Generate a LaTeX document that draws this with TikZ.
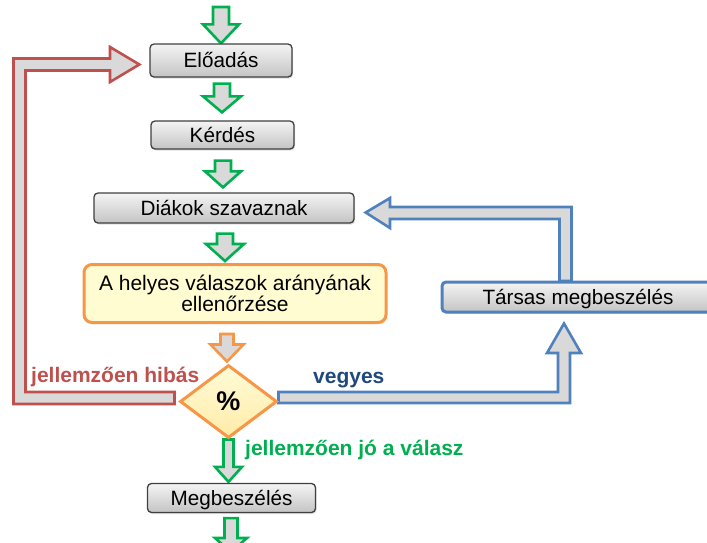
\documentclass[tikz,border=0pt]{standalone}
\usepackage{fontspec}
\setmainfont{Liberation Sans}
\usetikzlibrary{shapes.geometric,calc,shadows}
\pgfdeclarelayer{background}
\pgfsetlayers{background,main}
\definecolor{cred}{HTML}{C0504D}
\definecolor{cblue}{HTML}{4F81BD}
\definecolor{cgreen}{HTML}{00B050}
\definecolor{corange}{HTML}{F79646}
\definecolor{cdblue}{HTML}{1F497D}
\definecolor{afill}{HTML}{D9D9D9}
\definecolor{boxtop}{HTML}{F4F4F4}
\definecolor{boxbot}{HTML}{C4C4C4}
\definecolor{boxline}{HTML}{404040}
\definecolor{yfill}{HTML}{FFFCD2}
\definecolor{dtop}{HTML}{FFFCD8}
\definecolor{dbot}{HTML}{FFEBA8}
\tikzset{
  txt/.style={font=\fontsize{20.7}{22}\selectfont},
  graybox/.style={txt, rectangle, rounded corners=4pt, draw=boxline, line width=1.3pt,
    top color=boxtop, bottom color=boxbot, inner sep=0pt,
    text height=14.8pt, text depth=0pt,
    drop shadow={opacity=0.25, shadow xshift=1.2pt, shadow yshift=-1.5pt}},
  bluebox/.style={graybox, draw=cblue, line width=3pt},
  yellowbox/.style={font=\fontsize{21}{22}\selectfont, rectangle, rounded corners=8pt, draw=corange, line width=3pt,
    fill=yfill, inner sep=0pt, align=center,
    drop shadow={opacity=0.25, shadow xshift=1.2pt, shadow yshift=-1.5pt}},
  decision/.style={diamond, draw=corange, line width=3pt, top color=dtop, bottom color=dbot,
    inner sep=0pt, minimum width=97pt, minimum height=73pt,
    font=\fontsize{27}{30}\selectfont\bfseries},
  blockarrow/.style={draw=#1, line width=2.6pt, fill=afill, line join=miter, miter limit=10},
  lbl/.style={font=\fontsize{21}{22}\selectfont\bfseries, inner sep=0pt, anchor=base west}
}
% block arrow pointing down: #1 start, #2 tip, #3 colour, #4 shaft half, #5 head half, #6 head length
\newcommand\blockdown[6]{%
  \draw[blockarrow=#3] let \p1=#1, \p2=#2 in
    ({\x2-#4pt},\y1) -- ({\x2+#4pt},\y1) -- ({\x2+#4pt},{\y2+#6pt}) -- ({\x2+#5pt},{\y2+#6pt})
    -- (\x2,\y2) -- ({\x2-#5pt},{\y2+#6pt}) -- ({\x2-#4pt},{\y2+#6pt}) -- cycle;}
\begin{document}
\begin{tikzpicture}[x=1pt,y=-1pt]
\useasboundingbox (0,0) rectangle (707,542);

% nodes
\node[graybox, minimum width=142pt, minimum height=33pt] (eloadas) at (221,60.5) {Előadás};
\node[graybox, minimum width=143pt, minimum height=28pt] (kerdes) at (222.5,135) {Kérdés};
\node[graybox, minimum width=260pt, minimum height=30pt] (diakok) at (224,208) {Diákok szavaznak};
\node[yellowbox, minimum width=302pt, minimum height=58pt] (arany) at (235,293.5)
  {A helyes válaszok arányának\\[-1pt] ellenőrzése};
\node[decision] (dia) at (228.5,401.5) {\%};
\node[graybox, minimum width=168pt, minimum height=29pt] (megb) at (231.5,498) {Megbeszélés};
\node[bluebox, minimum width=272pt, minimum height=30pt] (tarsas) at (578,297) {Társas megbeszélés};

% free ends
\coordinate (in) at (221,7);
\coordinate (out) at (231,552);

% labels
\node[lbl, text=cred] (lhibas) at (31,382) {jellemzően hibás};
\node[lbl, text=cdblue] (lvegyes) at (313,383) {vegyes};
\node[lbl, text=cgreen] (ljo) at (245,455) {jellemzően jó a válasz};

\begin{pgfonlayer}{background}
% straight block arrows
\blockdown{(in)}{($(eloadas.north)+(0,0)$)}{cgreen}{8}{18}{19}
\blockdown{($(eloadas.south)+(1,6)$)}{($(kerdes.north)+(-0.5,-8)$)}{cgreen}{8}{19}{16}
\blockdown{($(kerdes.south)+(0,11)$)}{($(diakok.north)+(-1,-5)$)}{cgreen}{8}{18}{16}
\blockdown{($(diakok.south)+(0,10)$)}{($(arany.north)+(-10,-2)$)}{cgreen}{8}{19}{17}
\blockdown{($(arany.south)+(-8,10)$)}{($(dia.north)+(-1.5,-2)$)}{corange}{6.5}{16.5}{17}
\blockdown{(dia.south)}{($(megb.north)+(-3,-1)$)}{cgreen}{5}{13.5}{15}
\blockdown{($(megb.south)+(0,5)$)}{(out)}{cgreen}{6.5}{16}{14}

% red loop: from decision back to Előadás
\draw[blockarrow=cred]
  ($(dia.west)+(-4,-9.5)$) -- (25.5,392) -- (25.5,70.5) -- (110,70.5) -- (110,82)
  -- ($(eloadas.west)+(-10,4)$) -- (110,47) -- (110,58.5) -- (13.5,58.5) -- (13.5,404)
  -- ($(dia.west)+(-4,2.5)$) -- cycle;

% blue: decision to Társas megbeszélés
\draw[blockarrow=cblue]
  ($(dia.east)+(0,-9.5)$) -- (558,392) -- (558,353) -- (547,353)
  -- ($(tarsas.south)+(-14,10)$) -- (581,353) -- (570,353) -- (570,403)
  -- ($(dia.east)+(0,1.5)$) -- cycle;

% blue: Társas megbeszélés back to Diákok szavaznak
\draw[blockarrow=cblue]
  (559.5,281) -- (559.5,219) -- (390,219) -- (390,228)
  -- ($(diakok.east)+(11,4.5)$) -- (390,198) -- (390,207) -- (571.5,207) -- (571.5,281) -- cycle;
\end{pgfonlayer}
\end{tikzpicture}
\end{document}
